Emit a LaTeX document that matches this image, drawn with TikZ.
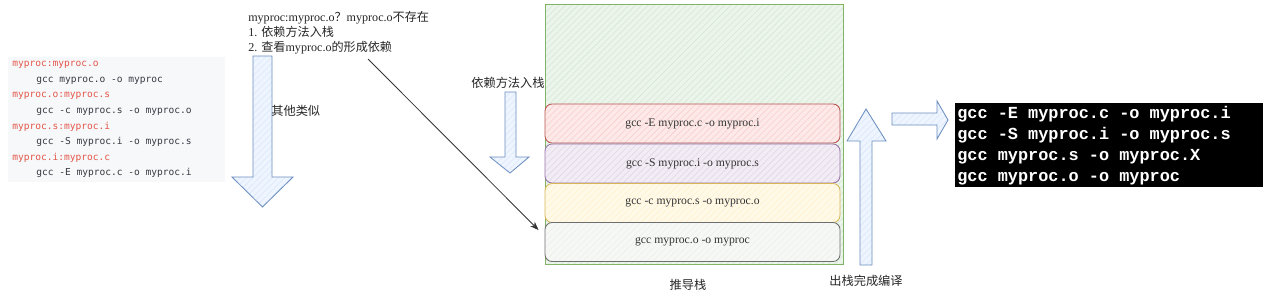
\documentclass[tikz,border=0pt]{standalone}
\usepackage{fontspec}
\setmainfont{Liberation Serif}
\newfontfamily\cjk{Noto Sans CJK SC}
\newfontfamily\codefont{DejaVu Sans Mono}
\newfontfamily\termfont{Liberation Mono}
\usepackage{xcolor}
\usepackage{tikz}
\usetikzlibrary{arrows.meta,patterns.meta}
\newlength\pxu
\setlength\pxu{0.025cm}
\definecolor{kwred}{RGB}{228,86,73}
\definecolor{codegray}{RGB}{56,58,66}
\definecolor{codebg}{RGB}{246,248,250}
\definecolor{grnline}{RGB}{130,179,102}
\definecolor{grnfill}{RGB}{213,232,212}
\definecolor{redline}{RGB}{184,84,80}
\definecolor{redfill}{RGB}{248,206,204}
\definecolor{purline}{RGB}{150,115,166}
\definecolor{purfill}{RGB}{225,213,231}
\definecolor{yelline}{RGB}{214,182,86}
\definecolor{yelfill}{RGB}{255,242,204}
\definecolor{gryline}{RGB}{110,110,110}
\definecolor{gryfill}{RGB}{236,240,234}
\definecolor{bluline}{RGB}{108,142,191}
\definecolor{blufill}{RGB}{218,232,252}

\begin{document}
\begin{tikzpicture}[x=0.025cm,y=-0.025cm,
  hatch/.style={preaction={fill=#1!45!white},pattern={Lines[angle=45,distance=3.2pt,line width=0.4pt]},pattern color=#1},
  layer/.style={rounded corners=5pt,minimum width=295\pxu,minimum height=39\pxu,line width=0.6pt,
    font=\fontsize{8.3}{10}\selectfont,text=black!80},
  barrow/.style={draw=bluline,line width=0.6pt,hatch=blufill},
  cn/.style={font=\cjk\fontsize{8.7}{10.7}\selectfont,text=black!85,inner sep=0},
  ptr/.style={-{Stealth[length=2.2mm,width=1.6mm]},line width=0.6pt,black!80}]
  \useasboundingbox (0,0) rectangle (1280,297);

  % left: makefile snippet
  \node[fill=codebg,anchor=north west,minimum width=217\pxu,minimum height=125\pxu,inner sep=0] (code) at (8,57) {};
  \node[anchor=north west,align=left,inner sep=0,font=\codefont\fontsize{6.8}{11.1}\selectfont,text=codegray] (codetxt) at (12,61)
    {\textcolor{kwred}{myproc:myproc.o}\\
     \hspace*{24\pxu}gcc myproc.o -o myproc\\
     \textcolor{kwred}{myproc.o:myproc.s}\\
     \hspace*{24\pxu}gcc -c myproc.s -o myproc.o\\
     \textcolor{kwred}{myproc.s:myproc.i}\\
     \hspace*{24\pxu}gcc -S myproc.i -o myproc.s\\
     \textcolor{kwred}{myproc.i:myproc.c}\\
     \hspace*{24\pxu}gcc -E myproc.c -o myproc.i};

  % big arrow down
  \draw[barrow] (253,56) -- (272,56) -- (272,177) -- (293,177) -- (262.5,207) -- (232,177) -- (253,177) -- cycle;
  \node[cn,anchor=west] (similar) at (271,111) {其他类似};

  % note on top
  \node[anchor=north west,align=left,inner sep=0,font=\fontsize{8.6}{10.7}\selectfont,text=black!85] (note) at (248,11)
    {myproc:myproc.o{\cjk ？}myproc.o{\cjk 不存在}\\
     1. {\cjk 依赖方法入栈}\\
     2. {\cjk 查看}myproc.o{\cjk 的形成依赖}};
  \coordinate (from) at (368,59);

  % push arrow
  \node[cn,anchor=west] (push) at (471,83) {依赖方法入栈};
  \draw[barrow] (505,92) -- (516,92) -- (516,157) -- (529,157) -- (510,173) -- (490,157) -- (505,157) -- cycle;

  % the stack
  \node[draw=grnline,line width=0.6pt,hatch=grnfill,minimum width=298\pxu,minimum height=260\pxu,inner sep=0] (stack) at (694,134) {};
  \node[layer,draw=redline,hatch=redfill] (l1) at (692.5,123.5) {gcc -E myproc.c -o myproc.i};
  \node[layer,draw=purline,hatch=purfill] (l2) at (692.5,163.5) {gcc -S myproc.i -o myproc.s};
  \node[layer,draw=yelline,hatch=yelfill] (l3) at (692.5,203) {gcc -c myproc.s -o myproc.o};
  \node[layer,draw=gryline,hatch=gryfill] (l4) at (692.5,242) {gcc myproc.o -o myproc};
  \node[cn] (stacklbl) at (688,285) {推导栈};

  \draw[ptr] (from) -- ([shift={(-6,8)}]l4.north west);

  % pop arrow
  \draw[barrow] (860,265) -- (860,141) -- (847,141) -- (866,109) -- (886,141) -- (872,141) -- (872,265) -- cycle;
  \node[cn] (poplbl) at (866,281) {出栈完成编译};
  \draw[barrow] (892,113) -- (937,113) -- (937,101) -- (948,120) -- (937,139) -- (937,125) -- (892,125) -- cycle;

  % terminal output
  \node[fill=black,anchor=north west,minimum width=308\pxu,minimum height=84\pxu,inner sep=0] (term) at (955,103) {};
  \node[anchor=north west,align=left,inner sep=0,text=white,font=\termfont\bfseries\fontsize{12}{15}\selectfont] (termtxt) at (957,106)
    {gcc -E myproc.c -o myproc.i\\
     gcc -S myproc.i -o myproc.s\\
     gcc myproc.s -o myproc.X\\
     gcc myproc.o -o myproc};
\end{tikzpicture}
\end{document}
